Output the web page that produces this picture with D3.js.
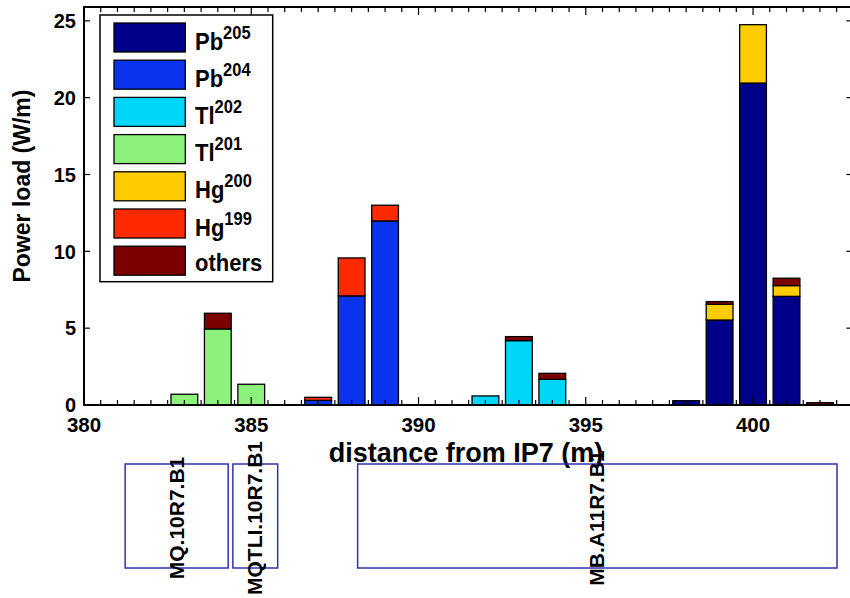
<!DOCTYPE html>
<html>
<head>
<meta charset="utf-8">
<script src="https://cdn.jsdelivr.net/npm/d3@7"></script>
<style>
  body { margin: 0; background: #fff; }
  svg { display: block; font-family: "Liberation Sans", Arial, sans-serif; font-weight: bold; }
</style>
</head>
<body>
<div id="chart"></div>
<script>
// ========================================
// DATA
// ========================================

const positions = [383, 384, 385, 387, 388, 389, 392, 393, 394, 398, 399, 400, 401, 402];

const isotopes = ['Pb205', 'Pb204', 'Tl202', 'Tl201', 'Hg200', 'Hg199', 'others'];
const isoBase = ['Pb', 'Pb', 'Tl', 'Tl', 'Hg', 'Hg', 'others'];
const isoMass = ['205', '204', '202', '201', '200', '199', ''];
const isoColors = ['#000088', '#0a33ee', '#00d6f8', '#8cf27c', '#ffcc00', '#ff2a00', '#7d0000'];

const pb205 = [0, 0, 0, 0, 0, 0, 0, 0, 0, 0.28, 5.53, 20.95, 7.07, 0];
const pb204 = [0, 0, 0, 0.3, 7.1, 11.98, 0, 0, 0, 0, 0, 0, 0, 0];
const tl202 = [0, 0, 0, 0, 0, 0, 0.59, 4.19, 1.67, 0, 0, 0, 0, 0];
const tl201 = [0.7, 4.95, 1.35, 0, 0, 0, 0, 0, 0, 0, 0, 0, 0, 0];
const hg200 = [0, 0, 0, 0, 0, 0, 0, 0, 0, 0, 1.02, 3.8, 0.7, 0];
const hg199 = [0, 0, 0, 0.2, 2.47, 1.02, 0, 0, 0, 0, 0, 0, 0, 0];
const others = [0, 1.02, 0, 0, 0, 0, 0, 0.26, 0.39, 0, 0.18, 0, 0.48, 0.15];

const yTicks = [0, 5, 10, 15, 20, 25];
const xTicks = [380, 385, 390, 395, 400];

// magnets drawn below the axis
const magnetNames = ['MQ.10R7.B1', 'MQTLI.10R7.B1', 'MB.A11R7.B1'];
const magnetStart = [381.23, 384.45, 388.18];
const magnetEnd = [384.31, 385.79, 402.51];

// ========================================
// LAYOUT
// ========================================

const width = 850, height = 598;
const plot = { left: 84, right: 853.4, top: 7, bottom: 405 };

const svg = d3.select('#chart').append('svg')
    .attr('width', width)
    .attr('height', height);

const x = d3.scaleLinear().domain([380, 403]).range([plot.left, plot.right]);
const y = d3.scaleLinear().domain([0, 25.9]).range([plot.bottom, plot.top]);

// ========================================
// BARS
// ========================================

const seriesValues = [pb205, pb204, tl202, tl201, hg200, hg199, others];
const table = positions.map((p, i) => {
    const row = { pos: p };
    isotopes.forEach((k, j) => row[k] = seriesValues[j][i]);
    return row;
});

const stacked = d3.stack().keys(isotopes)(table);
const barW = x(380.8) - x(380);

const layers = svg.append('g').selectAll('g')
    .data(stacked)
    .join('g')
    .attr('fill', (d, i) => isoColors[i]);

layers.selectAll('rect')
    .data(d => d.filter(s => s[1] - s[0] > 0))
    .join('rect')
    .attr('x', d => x(d.data.pos) - barW / 2)
    .attr('y', d => y(d[1]))
    .attr('width', barW)
    .attr('height', d => y(d[0]) - y(d[1]))
    .attr('stroke', '#000')
    .attr('stroke-width', 1.3);

// ========================================
// AXES (matlab style box, inward ticks)
// ========================================

const axes = svg.append('g').attr('stroke', '#000');

const minorX = d3.range(380, 403.01, 0.5);
axes.selectAll('.tb').data(minorX).join('line')
    .attr('x1', d => x(d)).attr('x2', d => x(d))
    .attr('y1', plot.bottom).attr('y2', d => plot.bottom - (d % 5 === 0 ? 8 : 5))
    .attr('stroke-width', 1.2);
axes.selectAll('.tt').data(minorX).join('line')
    .attr('x1', d => x(d)).attr('x2', d => x(d))
    .attr('y1', plot.top).attr('y2', d => plot.top + (d % 5 === 0 ? 8 : 5))
    .attr('stroke-width', 1.2);

axes.selectAll('.tl').data(yTicks).join('line')
    .attr('x1', plot.left).attr('x2', plot.left + 6)
    .attr('y1', d => y(d)).attr('y2', d => y(d))
    .attr('stroke-width', 1.2);
axes.selectAll('.tr').data(yTicks).join('line')
    .attr('x1', plot.right).attr('x2', plot.right - 7)
    .attr('y1', d => y(d)).attr('y2', d => y(d))
    .attr('stroke-width', 1.2);

axes.append('rect')
    .attr('x', plot.left).attr('y', plot.top)
    .attr('width', plot.right - plot.left)
    .attr('height', plot.bottom - plot.top)
    .attr('fill', 'none')
    .attr('stroke-width', 2);

svg.append('g').selectAll('text').data(yTicks).join('text')
    .attr('x', 76)
    .attr('y', d => y(d))
    .attr('dy', '0.36em')
    .attr('text-anchor', 'end')
    .attr('font-size', 20)
    .text(d => d);

svg.append('g').selectAll('text').data(xTicks).join('text')
    .attr('x', d => x(d))
    .attr('y', 432)
    .attr('text-anchor', 'middle')
    .attr('font-size', 20.5)
    .text(d => d);

svg.append('text')
    .attr('transform', 'translate(30,186) rotate(-90)')
    .attr('text-anchor', 'middle')
    .attr('font-size', 23)
    .text('Power load (W/m)');

svg.append('text')
    .attr('x', 466)
    .attr('y', 462)
    .attr('text-anchor', 'middle')
    .attr('font-size', 27)
    .text('distance from IP7 (m)');

// ========================================
// LEGEND
// ========================================

const legend = svg.append('g');
legend.append('rect')
    .attr('x', 100).attr('y', 15)
    .attr('width', 172.7).attr('height', 266.7)
    .attr('fill', '#fff')
    .attr('stroke', '#000')
    .attr('stroke-width', 1.5);

const items = legend.selectAll('g.item')
    .data(isotopes)
    .join('g')
    .attr('class', 'item')
    .attr('transform', (d, i) => `translate(0,${23 + i * 37.2})`);

items.append('rect')
    .attr('x', 114).attr('y', 0)
    .attr('width', 71.3).attr('height', 29)
    .attr('fill', (d, i) => isoColors[i])
    .attr('stroke', '#000')
    .attr('stroke-width', 1.3);

// labels look a bit taller than wide in the original
const lbl = items.append('text')
    .attr('transform', (d, i) => `translate(195,${i === 6 ? 24.5 : 26.5}) scale(1,1.1)`)
    .attr('font-size', 22);
lbl.append('tspan').text((d, i) => isoBase[i]);
lbl.append('tspan')
    .attr('dy', -10)
    .attr('font-size', 16.5)
    .text((d, i) => isoMass[i]);

// ========================================
// MAGNET LAYOUT BELOW
// ========================================

const mag = svg.append('g');
mag.selectAll('rect').data(magnetNames).join('rect')
    .attr('x', (d, i) => x(magnetStart[i]))
    .attr('y', 464)
    .attr('width', (d, i) => x(magnetEnd[i]) - x(magnetStart[i]))
    .attr('height', 104)
    .attr('fill', 'none')
    .attr('stroke', '#3232b4')
    .attr('stroke-width', 1.5);

mag.selectAll('text').data(magnetNames).join('text')
    .attr('transform', (d, i) => `translate(${x((magnetStart[i] + magnetEnd[i]) / 2) + 7},518) rotate(-90)`)
    .attr('text-anchor', 'middle')
    .attr('font-size', 21)
    .text(d => d);
</script>
</body>
</html>
